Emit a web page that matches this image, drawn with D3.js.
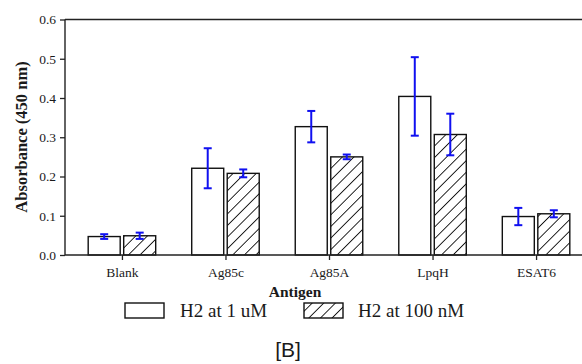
<!DOCTYPE html>
<html><head><meta charset="utf-8">
<script src="https://cdn.jsdelivr.net/npm/d3@7"></script>
<style>body{margin:0;background:#fff}svg{display:block}</style>
</head><body>
<script>
const categories = ["Blank", "Ag85c", "Ag85A", "LpqH", "ESAT6"];
const seriesNames = ["H2 at 1 uM", "H2 at 100 nM"];
const values1uM = [0.047, 0.221, 0.327, 0.404, 0.098];
const errors1uM = [0.006, 0.051, 0.040, 0.100, 0.022];
const values100nM = [0.049, 0.208, 0.250, 0.307, 0.105];
const errors100nM = [0.008, 0.010, 0.006, 0.053, 0.009];
const yTicks = [0.0, 0.1, 0.2, 0.3, 0.4, 0.5, 0.6];

const W = 582, H = 364;
const svg = d3.select("body").append("svg").attr("width", W).attr("height", H);
const defs = svg.append("defs");
const pat = defs.append("pattern").attr("id", "hatch").attr("patternUnits", "userSpaceOnUse")
  .attr("width", 8.2).attr("height", 8.2).attr("patternTransform", "rotate(45)");
pat.append("rect").attr("width", 8.2).attr("height", 8.2).attr("fill", "#fff");
pat.append("line").attr("x1", 0).attr("y1", 0).attr("x2", 0).attr("y2", 8.2)
  .attr("stroke", "#000").attr("stroke-width", 1.7);

const pLeft = 65, pTop = 19.5, pBottom = 255;
const x = d3.scalePoint().domain(categories).range([pLeft, 593]).padding(0.55);
const y = d3.scaleLinear().domain([0, 0.6]).range([pBottom, pTop]);

const serif = "'Liberation Serif','Times New Roman',serif";

const series = [
  {name: seriesNames[0], vals: values1uM, errs: errors1uM, off: -17.75, fill: "#fff"},
  {name: seriesNames[1], vals: values100nM, errs: errors100nM, off: 17.75, fill: "url(#hatch)"}
];
const bw = 32;
series.forEach(s => {
  const g = svg.append("g");
  g.selectAll("rect").data(categories).enter().append("rect")
    .attr("x", (d) => x(d) + s.off - bw / 2)
    .attr("y", (d, i) => y(s.vals[i]))
    .attr("width", bw)
    .attr("height", (d, i) => y(0) - y(s.vals[i]))
    .attr("fill", s.fill).attr("stroke", "#111").attr("stroke-width", 1.4);
});
series.forEach(s => {
  const g = svg.append("g").attr("stroke", "#1010f0").attr("stroke-width", 2);
  categories.forEach((c, i) => {
    const cx = x(c) + s.off;
    const y1 = y(s.vals[i] + s.errs[i]), y2 = y(s.vals[i] - s.errs[i]);
    g.append("line").attr("x1", cx).attr("x2", cx).attr("y1", y1).attr("y2", y2);
    g.append("line").attr("x1", cx - 4).attr("x2", cx + 4).attr("y1", y1).attr("y2", y1);
    g.append("line").attr("x1", cx - 4).attr("x2", cx + 4).attr("y1", y2).attr("y2", y2);
  });
});

const yAxis = svg.append("g").attr("transform", `translate(${pLeft},0)`)
  .call(d3.axisLeft(y).tickValues(yTicks).tickFormat(d3.format(".1f")).tickSize(5).tickPadding(4));
const xAxis = svg.append("g").attr("transform", `translate(0,${pBottom})`)
  .call(d3.axisBottom(x).tickSize(5).tickPadding(7));
[yAxis, xAxis].forEach(a => {
  a.select(".domain").remove();
  a.selectAll("line").attr("stroke", "#222").attr("stroke-width", 1.3);
  a.selectAll("text").attr("font-family", serif).attr("font-size", 13.5).attr("fill", "#1a1a1a");
});
svg.append("line").attr("x1", pLeft).attr("x2", W).attr("y1", pBottom).attr("y2", pBottom)
  .attr("stroke", "#222").attr("stroke-width", 1.4);
svg.append("line").attr("x1", pLeft).attr("x2", W).attr("y1", pTop).attr("y2", pTop)
  .attr("stroke", "#222").attr("stroke-width", 1.4);
svg.append("line").attr("x1", pLeft).attr("x2", pLeft).attr("y1", pTop).attr("y2", pBottom)
  .attr("stroke", "#222").attr("stroke-width", 1.4);

svg.append("text").attr("transform", "translate(27,137) rotate(-90)")
  .attr("text-anchor", "middle").attr("font-family", serif).attr("font-weight", "bold")
  .attr("font-size", 16.5).attr("fill", "#1a1a1a").text("Absorbance (450 nm)");
svg.append("text").attr("x", 295).attr("y", 297)
  .attr("text-anchor", "middle").attr("font-family", serif).attr("font-weight", "bold")
  .attr("font-size", 15.5).attr("fill", "#1a1a1a").text("Antigen");

const leg = [{x: 125, tx: 180, fill: "#fff"}, {x: 304, tx: 358, fill: "url(#hatch)"}];
leg.forEach((l, i) => {
  svg.append("rect").attr("x", l.x).attr("y", 303).attr("width", 39).attr("height", 15)
    .attr("fill", l.fill).attr("stroke", "#111").attr("stroke-width", 1.4);
  svg.append("text").attr("x", l.tx).attr("y", 317).attr("font-family", serif)
    .attr("font-size", 19).attr("fill", "#1a1a1a").text(seriesNames[i]);
});

svg.append("text").attr("x", 288).attr("y", 357).attr("text-anchor", "middle")
  .attr("font-family", "'Liberation Sans',Arial,sans-serif").attr("font-size", 21)
  .attr("fill", "#1a1a1a").text("[B]");
</script>
</body></html>
